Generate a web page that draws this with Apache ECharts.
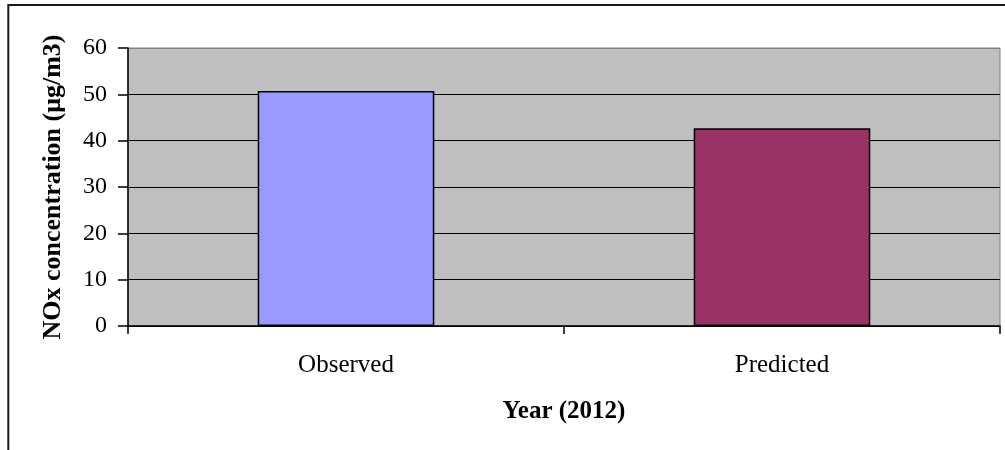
<!DOCTYPE html>
<html>
<head>
<meta charset="utf-8">
<script src="https://cdn.jsdelivr.net/npm/echarts@6/dist/echarts.min.js"></script>
<style>
html,body{margin:0;padding:0;background:#fff;}
#chart{width:1005px;height:450px;}
</style>
</head>
<body>
<div id="chart"></div>
<script>
const categories = ['Observed', 'Predicted'];
const values = [50.7, 42.7];
const yTicks = [0, 10, 20, 30, 40, 50, 60];
const xTitle = 'Year (2012)';
const yTitle = 'NOx concentration (μg/m3)';

const palette = ['#9999FF', '#993366'];
const FONT = '"Liberation Serif", "Times New Roman", serif';

const chart = echarts.init(document.getElementById('chart'), null, {renderer: 'canvas'});
chart.setOption({
  animation: false,
  backgroundColor: '#ffffff',
  graphic: [{
    type: 'rect',
    shape: {x: 8.3, y: 5, width: 1100, height: 500},
    style: {fill: 'none', stroke: '#1a1a1a', lineWidth: 2},
    z: 100
  }],
  grid: {
    left: 128, top: 48, right: 5, bottom: 124,
    show: true, backgroundColor: '#C0C0C0', borderColor: '#808080', borderWidth: 1
  },
  xAxis: {
    type: 'category',
    data: categories,
    name: xTitle,
    nameLocation: 'middle',
    nameGap: 73,
    nameTextStyle: {fontFamily: FONT, fontSize: 25, fontWeight: 'bold', color: '#000'},
    axisLine: {show: true, lineStyle: {color: '#000', width: 1.5}},
    axisTick: {show: true, length: 8, lineStyle: {color: '#000', width: 1.5}},
    axisLabel: {fontFamily: FONT, fontSize: 25, color: '#000', margin: 27},
    splitLine: {show: false}
  },
  yAxis: {
    type: 'value',
    min: yTicks[0],
    max: yTicks[yTicks.length - 1],
    interval: yTicks[1] - yTicks[0],
    name: yTitle,
    nameLocation: 'middle',
    nameGap: 62,
    nameTextStyle: {fontFamily: FONT, fontSize: 26, fontWeight: 'bold', color: '#000'},
    axisLine: {show: true, lineStyle: {color: '#000', width: 1.5}},
    axisTick: {show: true, length: 10, lineStyle: {color: '#000', width: 1.5}},
    axisLabel: {fontFamily: FONT, fontSize: 24, color: '#000', margin: 21},
    splitLine: {show: true, lineStyle: {color: ['#000','#000','#000','#000','#000','#000','#808080'], width: 1.2}}
  },
  series: [{
    type: 'bar',
    data: values.map((v, i) => ({value: v, itemStyle: {color: palette[i]}})),
    barCategoryGap: '59.5%',
    itemStyle: {borderColor: '#000', borderWidth: 1.5}
  }]
});
</script>
</body>
</html>
